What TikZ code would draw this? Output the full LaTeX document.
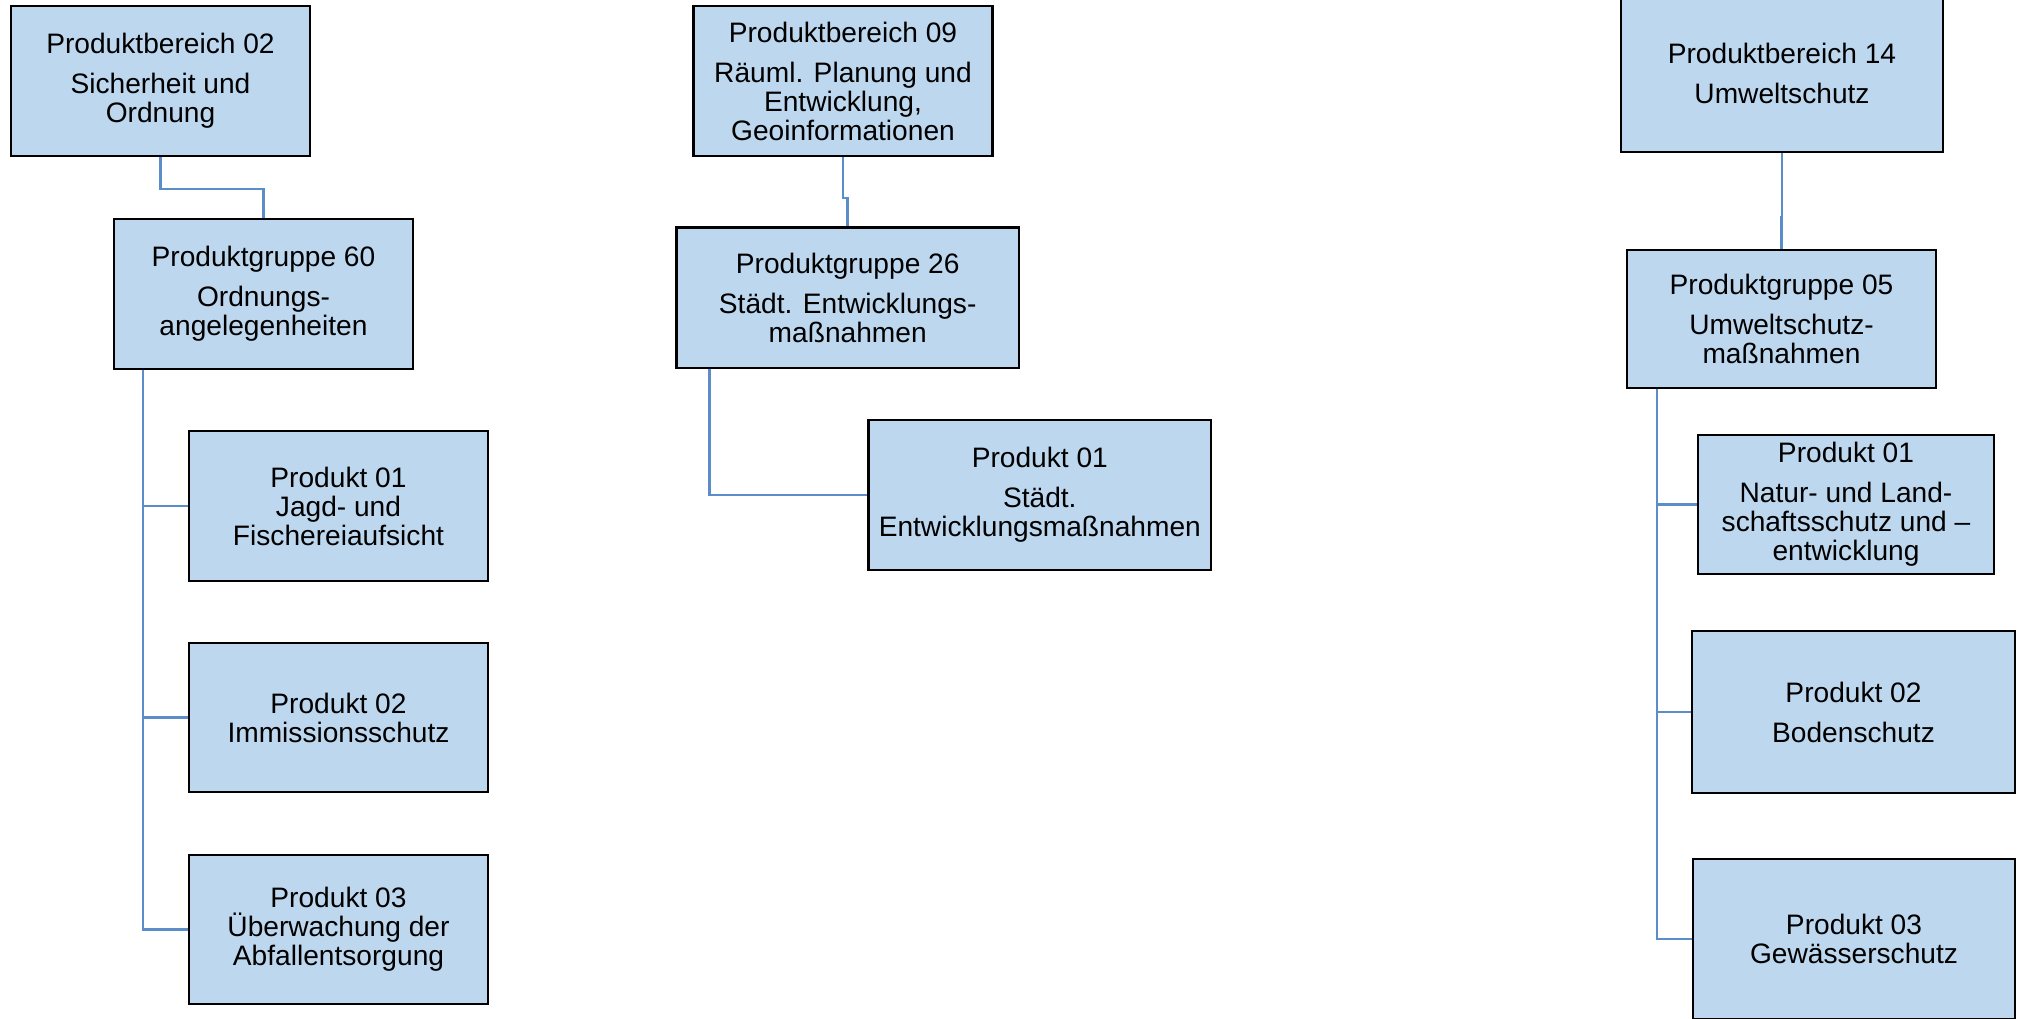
\documentclass[tikz,border=0pt]{standalone}
\usepackage{fontspec}
\setmainfont{Liberation Sans}
\definecolor{boxblue}{HTML}{BDD7EE}
\definecolor{linkblue}{HTML}{5B8DC8}
\tikzset{
  box/.style={draw=black,line width=0.65pt,fill=boxblue,align=center,inner sep=0pt,font=\fontsize{8}{8.25}\selectfont},
  link/.style={draw=linkblue,line width=0.7pt}
}
\begin{document}
\begin{tikzpicture}[x=0.01cm,y=-0.01cm]
\useasboundingbox (0,0) rectangle (2024,1018);
\node[box,minimum width=2.99cm,minimum height=1.5cm](pb02)at(160.5,81){Produktbereich 02\\[3.1pt]Sicherheit und\\Ordnung};
\node[box,minimum width=2.99cm,minimum height=1.5cm](pg60)at(263.5,294){Produktgruppe 60\\[3.1pt]Ordnungs-\\angelegenheiten};
\node[box,minimum width=2.99cm,minimum height=1.5cm](p6001)at(338.5,506){Produkt 01\\Jagd- und\\Fischereiaufsicht};
\node[box,minimum width=2.99cm,minimum height=1.49cm](p6002)at(338.5,717.5){Produkt 02\\Immissionsschutz};
\node[box,minimum width=2.99cm,minimum height=1.49cm](p6003)at(338.5,929.5){Produkt 03\\Überwachung der\\Abfallentsorgung};
\node[box,minimum width=2.99cm,minimum height=1.5cm](pb09)at(843,81){Produktbereich 09\\[3.1pt]Räuml. Planung und\\Entwicklung,\\Geoinformationen};
\node[box,minimum width=3.42cm,minimum height=1.405cm](pg26)at(847.7,297.8){Produktgruppe 26\\[3.1pt]Städt. Entwicklungs-\\maßnahmen};
\node[box,minimum width=3.425cm,minimum height=1.5cm](p2601)at(1039.8,495){Produkt 01\\[3.1pt]Städt.\\Entwicklungsmaßnahmen};
\node[box,minimum width=3.22cm,minimum height=1.58cm](pb14)at(1782,73){Produktbereich 14\\[3.1pt]Umweltschutz};
\node[box,minimum width=3.09cm,minimum height=1.385cm](pg05)at(1781.5,319){Produktgruppe 05\\[3.1pt]Umweltschutz-\\maßnahmen};
\node[box,minimum width=2.96cm,minimum height=1.39cm](p0501)at(1846,504.5){Produkt 01\\[3.1pt]Natur- und Land-\\schaftsschutz und –\\entwicklung};
\node[box,minimum width=3.23cm,minimum height=1.62cm](p0502)at(1853.5,712){Produkt 02\\[3.1pt]Bodenschutz};
\node[box,minimum width=3.22cm,minimum height=1.6cm](p0503)at(1854,939){Produkt 03\\Gewässerschutz};
\draw[link](pb02.south)--++(0,32)-|(pg60.north);
\draw[link](pb09.south)--++(0,41)-|(pg26.north);
\draw[link](pb14.south)--++(0,64)-|(pg05.north);
\foreach \p in {p6001,p6002,p6003}
  \draw[link]([xshift=0.3cm]pg60.south west)|-(\p.west);
\draw[link]([xshift=0.34cm]pg26.south west)|-(p2601.west);
\foreach \p in {p0501,p0502,p0503}
  \draw[link]([xshift=0.31cm]pg05.south west)|-(\p.west);
\end{tikzpicture}
\end{document}
